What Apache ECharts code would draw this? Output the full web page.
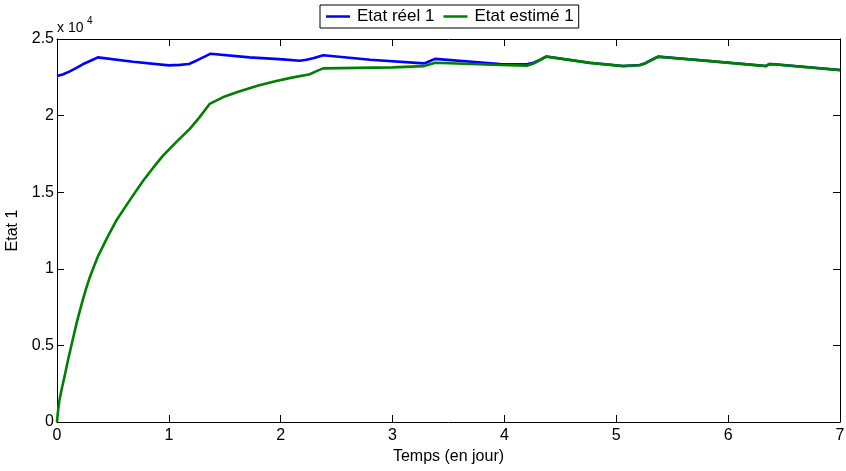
<!DOCTYPE html>
<html>
<head>
<meta charset="utf-8">
<script src="https://cdn.jsdelivr.net/npm/echarts@6/dist/echarts.min.js"></script>
<style>
html,body{margin:0;padding:0;background:#fff;}
#chart{width:846px;height:471px;}
</style>
</head>
<body>
<div id="chart"></div>
<script>
// Time in days
var blueT = [0, 0.05, 0.11, 0.17, 0.23, 0.3, 0.365, 0.68, 1.0, 1.1, 1.18, 1.25, 1.32, 1.373, 1.72, 2.02, 2.17, 2.23, 2.29, 2.38, 2.8, 3.28, 3.3, 3.34, 3.38, 3.96, 4.2, 4.26, 4.32, 4.375, 4.76, 5.06, 5.21, 5.26, 5.3, 5.374, 5.81, 6.34, 6.37, 6.42, 7.0];
var blueV = [22580, 22680, 22870, 23100, 23350, 23580, 23800, 23520, 23280, 23310, 23370, 23600, 23850, 24040, 23800, 23670, 23580, 23640, 23740, 23940, 23650, 23410, 23450, 23580, 23700, 23370, 23350, 23450, 23650, 23860, 23450, 23240, 23300, 23420, 23580, 23850, 23580, 23240, 23370, 23350, 22980];
var greenT = [0, 0.008, 0.022, 0.045, 0.067, 0.1, 0.14, 0.18, 0.23, 0.26, 0.29, 0.33, 0.365, 0.45, 0.53, 0.648, 0.77, 0.86, 0.95, 1.07, 1.185, 1.27, 1.364, 1.5, 1.62, 1.8, 1.96, 2.1, 2.26, 2.32, 2.38, 2.53, 3.0, 3.28, 3.33, 3.38, 3.96, 4.2, 4.26, 4.32, 4.375, 4.76, 5.06, 5.21, 5.26, 5.3, 5.374, 5.81, 6.34, 6.37, 6.42, 7.0];
var greenV = [0, 650, 1440, 2250, 2960, 4100, 5350, 6600, 7960, 8700, 9380, 10150, 10790, 12050, 13150, 14450, 15750, 16600, 17400, 18300, 19120, 19850, 20760, 21250, 21560, 21960, 22260, 22480, 22700, 22900, 23080, 23100, 23150, 23230, 23340, 23450, 23300, 23260, 23400, 23630, 23850, 23440, 23230, 23290, 23410, 23570, 23840, 23570, 23230, 23360, 23340, 22970];
var seriesNames = ['Etat réel 1', 'Etat estimé 1'];
var xTicks = [0, 1, 2, 3, 4, 5, 6, 7];
var yTicks = [0, 5000, 10000, 15000, 20000, 25000];

function pairs(t, v) { return t.map(function (x, i) { return [x, v[i]]; }); }

var font = 'Liberation Sans, Arial, Helvetica, sans-serif';
var chart = echarts.init(document.getElementById('chart'), null, { renderer: 'canvas' });

var axisCommonX = {
  type: 'value', min: xTicks[0], max: xTicks[xTicks.length - 1], interval: 1,
  splitLine: { show: false },
  axisLine: { show: true, onZero: false, lineStyle: { color: '#000', width: 1 } },
  axisTick: { show: true, inside: true, length: 7, lineStyle: { color: '#000', width: 1 } }
};
var axisCommonY = {
  type: 'value', min: yTicks[0], max: yTicks[yTicks.length - 1], interval: 5000,
  splitLine: { show: false },
  axisLine: { show: true, onZero: false, lineStyle: { color: '#000', width: 1 } },
  axisTick: { show: true, inside: true, length: 7, lineStyle: { color: '#000', width: 1 } }
};

chart.setOption({
  animation: false,
  backgroundColor: '#fff',
  textStyle: { fontFamily: font },
  grid: { left: 57, right: 6, top: 39, bottom: 49, containLabel: false, outerBoundsMode: 'none' },
  legend: {
    left: 320, top: 5,
    data: seriesNames,
    icon: 'rect', itemWidth: 24, itemHeight: 2.5, itemGap: 9,
    padding: [3, 5, 3, 6],
    borderColor: '#000', borderWidth: 1, backgroundColor: '#fff',
    textStyle: { fontFamily: font, fontSize: 17, color: '#000', padding: [0, 0, 0, 2] }
  },
  xAxis: [
    Object.assign({}, axisCommonX, {
      position: 'bottom',
      name: 'Temps (en jour)', nameLocation: 'middle', nameGap: 22,
      nameTextStyle: { fontFamily: font, fontSize: 16, color: '#000' },
      axisLabel: { show: true, margin: 6, color: '#000', fontSize: 16, fontFamily: font }
    }),
    Object.assign({}, axisCommonX, { position: 'top', axisLabel: { show: false } })
  ],
  yAxis: [
    Object.assign({}, axisCommonY, {
      position: 'left',
      name: 'Etat 1', nameLocation: 'middle', nameGap: 33,
      nameTextStyle: { fontFamily: font, fontSize: 16, color: '#000' },
      axisLabel: { show: true, margin: 3, color: '#000', fontSize: 16, fontFamily: font,
        formatter: function (v) { return String(v / 10000); } }
    }),
    Object.assign({}, axisCommonY, { position: 'right', axisLabel: { show: false } })
  ],
  graphic: [
    { type: 'text', left: 57, top: 21,
      style: { text: 'x 10', font: '14px "Liberation Sans", Arial, sans-serif', fill: '#000' } },
    { type: 'text', left: 87, top: 16,
      style: { text: '4', font: '10px "Liberation Sans", Arial, sans-serif', fill: '#000' } }
  ],
  series: [
    { name: seriesNames[0], type: 'line', data: pairs(blueT, blueV), showSymbol: false, smooth: false,
      lineStyle: { color: '#0000ff', width: 2.6 }, itemStyle: { color: '#0000ff' }, z: 2 },
    { name: seriesNames[1], type: 'line', data: pairs(greenT, greenV), showSymbol: false, smooth: false,
      lineStyle: { color: '#008000', width: 2.6 }, itemStyle: { color: '#008000' }, z: 3 }
  ]
});
</script>
</body>
</html>
